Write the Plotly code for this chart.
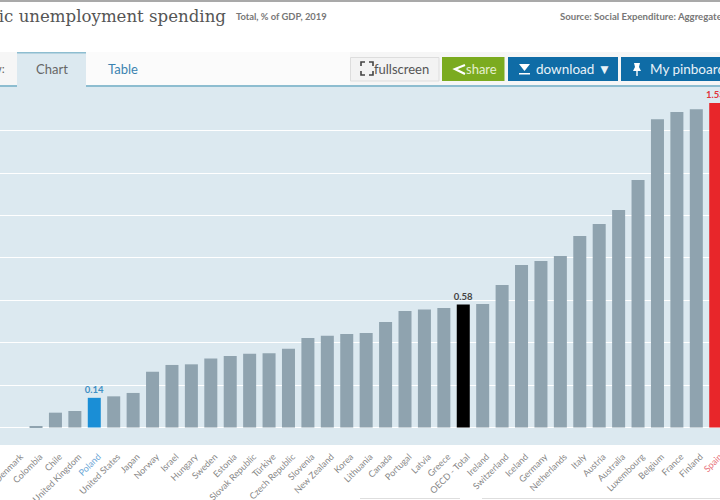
import plotly.graph_objects as go

countries = ["Denmark", "Colombia", "Chile", "United Kingdom", "Poland", "United States", "Japan",
             "Norway", "Israel", "Hungary", "Sweden", "Estonia", "Slovak Republic", "Türkiye",
             "Czech Republic", "Slovenia", "New Zealand", "Korea", "Lithuania", "Canada", "Portugal",
             "Latvia", "Greece", "OECD - Total", "Ireland", "Switzerland", "Iceland", "Germany",
             "Netherlands", "Italy", "Austria", "Australia", "Luxembourg", "Belgium", "France",
             "Finland", "Spain"]
spending = [0.0, 0.005, 0.07, 0.078, 0.14, 0.147, 0.163,
            0.263, 0.295, 0.298, 0.326, 0.337, 0.348, 0.35,
            0.372, 0.422, 0.433, 0.441, 0.446, 0.498, 0.55,
            0.557, 0.564, 0.58, 0.583, 0.672, 0.767, 0.785,
            0.809, 0.903, 0.96, 1.026, 1.167, 1.454, 1.488,
            1.501, 1.53]
highlights = {"Poland": "#1a8ed6", "OECD - Total": "#000000", "Spain": "#e8262a"}
label_colors = {"Poland": "#3f8fc4", "OECD - Total": "#444444", "Spain": "#e0333a"}
tick_colors = {"Poland": "#6aa6d6", "Spain": "#e8707a"}
grid_values = [0.0, 0.2, 0.4, 0.6, 0.8, 1.0, 1.2, 1.4]

W, H = 720, 500
BAR_GREY = "#8fa3af"
PANEL = "#dce9f0"
SANS = "Lato"


def px(x):
    return x / W


def py(y):
    return 1 - y / H


def box(x0, y0, x1, y1, fill, line=None, width=0):
    return dict(type="rect", xref="paper", yref="paper", x0=px(x0), x1=px(x1), y0=py(y0), y1=py(y1),
                fillcolor=fill, line=dict(color=line or fill, width=width), layer="below")


def glyph(points, fill):
    path = "M" + " L".join(f"{px(a):.5f},{py(b):.5f}" for a, b in points) + " Z"
    return dict(type="path", xref="paper", yref="paper", path=path, fillcolor=fill,
                line=dict(color=fill, width=0), layer="above")


def stroke(points, color, width):
    path = "M" + " L".join(f"{px(a):.5f},{py(b):.5f}" for a, b in points)
    return dict(type="path", xref="paper", yref="paper", path=path,
                line=dict(color=color, width=width), layer="above")


def note(x, y, text, size, color, family=SANS, anchor="left"):
    return dict(xref="paper", yref="paper", x=px(x), y=py(y), text=text, showarrow=False,
                xanchor=anchor, yanchor="middle", align=anchor,
                font=dict(family=family, size=size, color=color))


bar_colors = [highlights.get(c, BAR_GREY) for c in countries]
bar_labels = [f"{v:.2f}" if c in highlights else "" for c, v in zip(countries, spending)]
tick_labels = [
    f'<span style="color:{tick_colors[c]}">{c}</span>' if c in tick_colors else c
    for c in countries
]

fig = go.Figure(go.Bar(
    x=countries, y=spending, width=0.67,
    marker=dict(color=bar_colors, line=dict(width=0)),
    text=bar_labels, textposition="outside", cliponaxis=False, constraintext="none",
    textfont=dict(family=SANS, size=9.5, color=[label_colors.get(c, "#444") for c in countries],
                  weight="bold"),
    hoverinfo="x+y",
))

shapes = [
    box(0, 0, 720, 2, "#a9a9a9"),
    box(0, 52, 720, 85, "#f6f6f6"),
    box(86, 52, 350, 85, "#fbfbfb"),
    box(17, 52, 86, 88, PANEL),
    box(17, 52, 86, 53.5, "#8dbdd0"),
    box(0, 85, 17, 87, "#8dbdd0"),
    box(86, 85, 720, 87, "#8dbdd0"),
    box(350.5, 57.5, 439, 81, "#f3f3f3", "#dddddd", 1),
    box(442, 57, 504.5, 81, "#7bab1f"),
    box(508, 57, 618, 81, "#0f6ca6"),
    box(621, 57, 725, 81, "#0f6ca6"),
    # fullscreen arrows
    stroke([(361, 66), (361, 62), (365, 62)], "#444444", 1.6),
    stroke([(369, 62), (373, 62), (373, 66)], "#444444", 1.6),
    stroke([(361, 71), (361, 75), (365, 75)], "#444444", 1.6),
    stroke([(369, 75), (373, 75), (373, 71)], "#444444", 1.6),
    # share icon
    stroke([(465, 65), (455, 69), (465, 74)], "#ffffff", 2.2),
    # download icon
    glyph([(519, 64), (530, 64), (524.5, 71)], "#ffffff"),
    box(519, 73, 530, 74.5, "#ffffff"),
    # pinboard icon
    glyph([(634, 63), (640, 63), (639, 67), (641, 71), (633, 71), (635, 67)], "#ffffff"),
    stroke([(637, 71), (637, 76)], "#ffffff", 1.4),
    # lower frame of the page
    box(360, 498, 460, 499, "#dedede"),
    box(482, 498, 720, 499, "#dedede"),
]

annotations = [
    note(228, 16, "Public unemployment spending", 16.6, "#555555", "DejaVu Serif", "right"),
    note(234, 16, "<b>Total, % of GDP, 2019</b>", 9.4, "#777777"),
    note(557.5, 16, "<b>Source: Social Expenditure: Aggregated data</b>", 9.6, "#777777"),
    note(7, 68, "View:", 12, "#666666", SANS, "right"),
    note(34, 68.5, "Chart", 13, "#666666"),
    note(106, 68.5, "Table", 13, "#3c83b0"),
    note(372, 69, "fullscreen", 13, "#555555"),
    note(463.5, 69, "share", 13, "#e6f0d0"),
    note(534, 69, "download ▼", 13.5, "#e8f2f8"),
    note(648, 69, "My pinboard", 13.5, "#e8f2f8"),
]

fig.update_layout(
    width=W, height=H, autosize=False,
    margin=dict(l=0, r=0, t=0, b=0),
    paper_bgcolor="#ffffff", plot_bgcolor=PANEL,
    showlegend=False, bargap=0.33,
    shapes=shapes, annotations=annotations,
    xaxis=dict(type="category", range=[-0.855, 36.22], tickmode="array", tickvals=countries,
               ticktext=tick_labels, tickangle=-45, ticks="outside", ticklen=2,
               tickcolor="rgba(0,0,0,0)", showgrid=False, showline=False,
               zeroline=False, tickfont=dict(family=SANS, size=9, color="#868686"),
               ticklabelshift=4, automargin=False, anchor="y"),
    yaxis=dict(domain=[py(445), py(87)], range=[-0.0825, 1.606], tickmode="array", tickvals=grid_values,
               showticklabels=False, ticks="", gridcolor="#ffffff", gridwidth=1, zeroline=False,
               showline=False, automargin=False),
)

fig.write_html("out.html", config={"displayModeBar": False})
